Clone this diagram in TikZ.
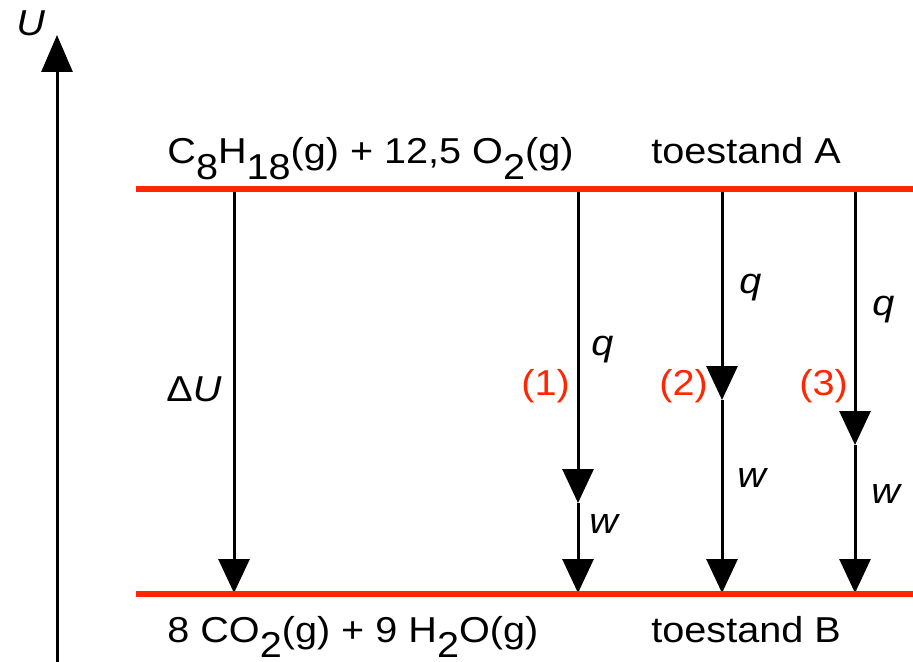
\documentclass[tikz,border=0pt]{standalone}
\usepackage{fontspec}
\setmainfont[FakeStretch=1.1]{Liberation Sans}
\usetikzlibrary{arrows.meta}
\definecolor{lvlred}{RGB}{255,38,0}
\newcommand\lowsub[1]{\raisebox{-7.6pt}{#1}}
\begin{document}
\begin{tikzpicture}[x=0.5pt,y=-0.5pt,
  lbl/.style={anchor=base west,inner sep=0pt,font=\fontsize{18pt}{21pt}\selectfont},
  redlbl/.style={lbl,text=lvlred},
  arr/.style={line width=1.5pt,-{Triangle[length=17pt,width=15.5pt]}},
  axisarr/.style={line width=1.5pt,-{Triangle[length=18.5pt,width=15.5pt]}},
  redline/.style={draw=lvlred,line width=2.6pt}]
\useasboundingbox (0,0) rectangle (913,662);
% coordinates
\coordinate (axB) at (57,662);
\coordinate (axT) at (57,35);
\coordinate (topL) at (136,189);
\coordinate (topR) at (915,189);
\coordinate (botL) at (136,594);
\coordinate (botR) at (915,594);
\coordinate (a0) at (234,189); \coordinate (b0) at (234,593);
\coordinate (a1) at (578,189); \coordinate (m1) at (578,503); \coordinate (b1) at (578,593);
\coordinate (a2) at (722,189); \coordinate (m2) at (722,400); \coordinate (b2) at (722,593);
\coordinate (a3) at (855,189); \coordinate (m3) at (855,445); \coordinate (b3) at (855,593);
% axis
\draw[axisarr] (axB) -- (axT);
\node[lbl] (ulab) at (16,36) {\itshape U};
% arrows
\draw[arr] (a0) -- (b0);
\draw[arr] (a1) -- (m1);
\draw[arr] (m1) -- (b1);
\draw[arr] (a2) -- (m2);
\draw[arr] (m2) -- (b2);
\draw[arr] (a3) -- (m3);
\draw[arr] (m3) -- (b3);
% levels
\draw[redline] (topL) -- (topR);
\draw[redline] (botL) -- (botR);
% texts
\node[lbl] (stA) at (167,164) {C\lowsub{8}H\lowsub{18}(g) + 12,5 O\lowsub{2}(g)};
\node[lbl] (tA) at (651,164) {toestand A};
\node[lbl] (stB) at (167,642) {8 CO\lowsub{2}(g) + 9 H\lowsub{2}O(g)};
\node[lbl] (tB) at (651,642) {toestand B};
\node[lbl] (dU) at (166,401) {Δ\itshape U};
\node[lbl] (q1) at (591,355) {\itshape q};
\node[lbl] (w1) at (589,533) {\itshape w};
\node[lbl] (q2) at (739,293) {\itshape q};
\node[lbl] (w2) at (737,487) {\itshape w};
\node[lbl] (q3) at (872,315) {\itshape q};
\node[lbl] (w3) at (871,503) {\itshape w};
\node[redlbl] (n1) at (521,395) {(1)};
\node[redlbl] (n2) at (659,395) {(2)};
\node[redlbl] (n3) at (799,395) {(3)};
\end{tikzpicture}
\end{document}
